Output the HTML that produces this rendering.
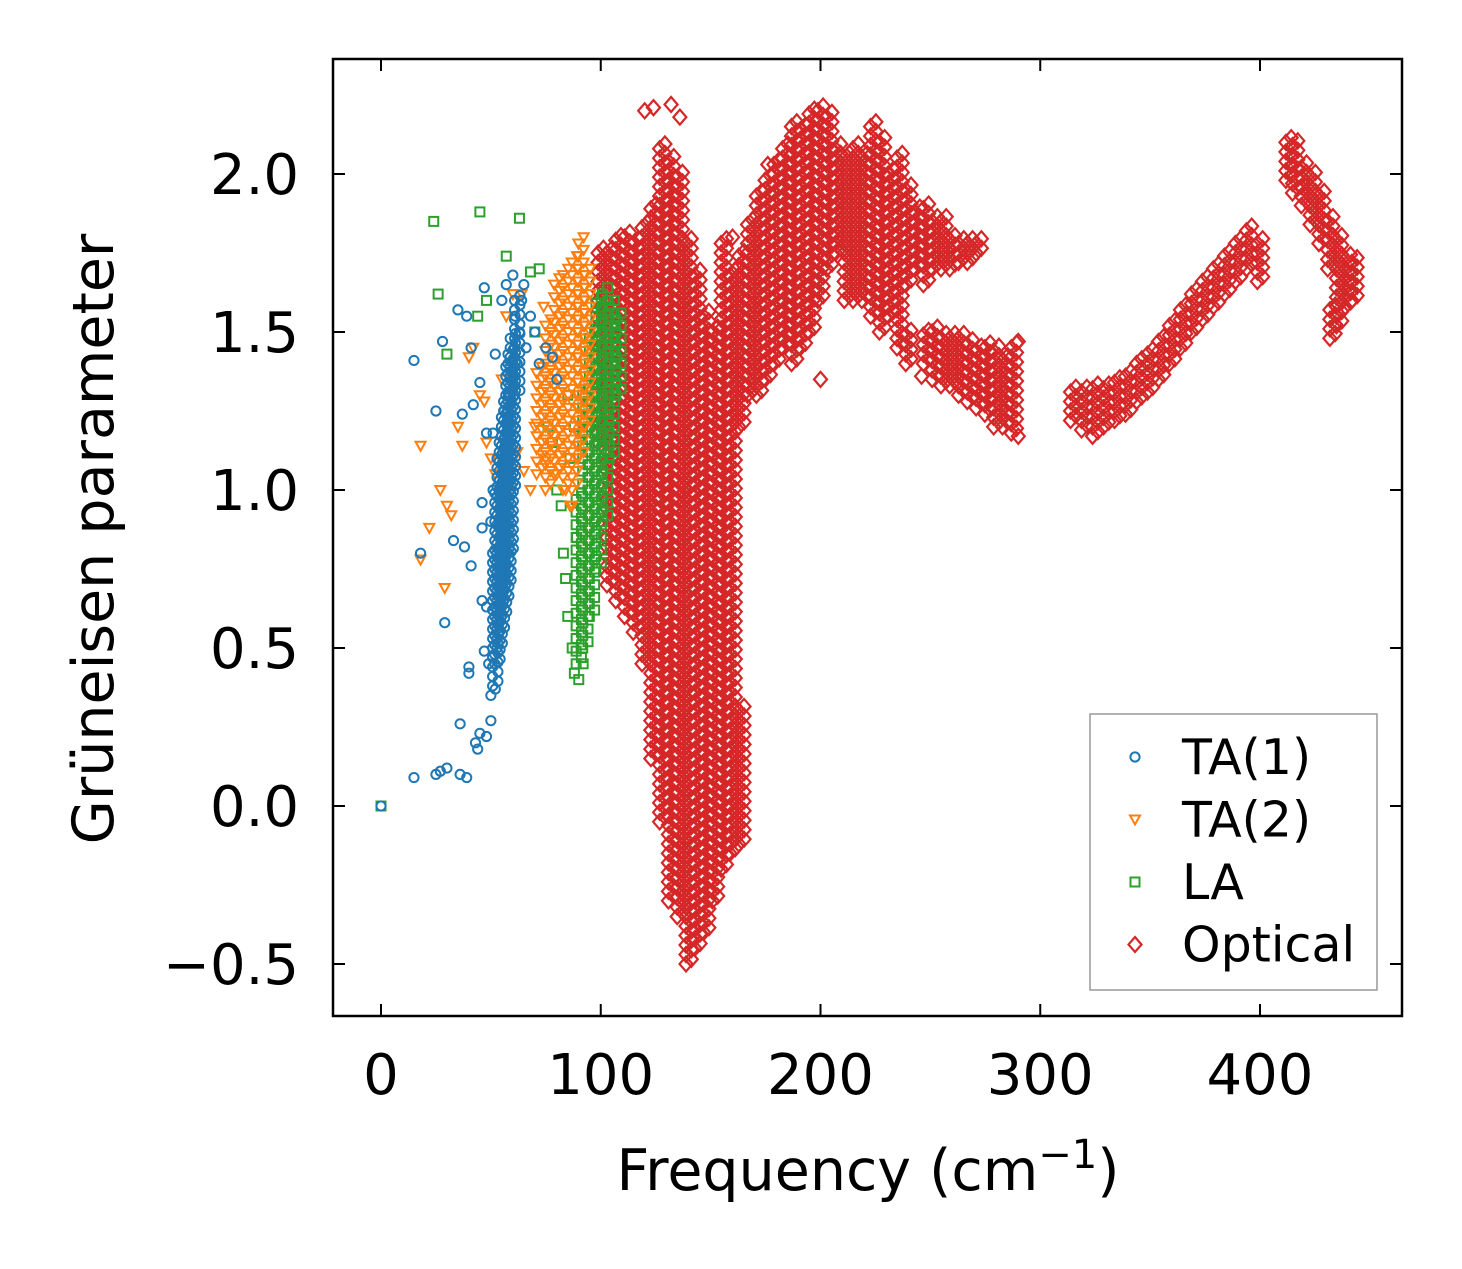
<!DOCTYPE html>
<html><head><meta charset="utf-8"><style>
body{margin:0;background:#fff}
svg text{font-family:"DejaVu Sans","Liberation Sans",sans-serif;fill:#000}
</style></head><body>
<svg id="chart" width="1462" height="1264" xmlns="http://www.w3.org/2000/svg">
<rect width="1462" height="1264" fill="#fff"/>
<g id="marks"></g>
<g id="axes"></g>
</svg>
<script>
// ---- data ----
const xTicks=[0,100,200,300,400];
const yTicks=[-0.5,0.0,0.5,1.0,1.5,2.0];
const yTickLabels=["\u22120.5","0.0","0.5","1.0","1.5","2.0"];
const ta1Points=[[0,0],[15,0.09],[15,1.41],[18,0.8],[25,0.1],[25,1.25],[27,0.11],[28,1.47],[29,0.58],[30,0.12],[33,0.84],[35,1.57],[36,0.26],[36,0.1],[37,1.24],[38,0.82],[39,0.09],[39,1.55],[40,0.44],[40,0.42],[41,0.76],[41,1.45],[42,1.27],[43,0.2],[44,0.18],[45,0.23],[45,1.34],[46,0.96],[46,0.88],[46,0.65],[47,1.64],[47,0.49],[48,0.22],[48,1.18],[48,0.63],[49,0.45],[50,0.27],[50,0.35],[50,0.9],[51,1.18],[51,1.0],[52,0.37],[52,1.43],[55,1.6],[57,1.65],[60,1.68],[61,1.55],[62,1.4],[63,1.5],[64,1.6],[65,1.65],[66,1.45],[68,1.55],[70,1.5],[72,1.4],[75,1.45],[78,1.42],[80,1.35],[58,1.3],[56,1.25]];
const ta1Bands=[[52,0.38,0.8],[53,0.45,1.0],[54,0.5,1.1],[55,0.55,1.15],[56,0.6,1.25],[57,0.65,1.3],[58,0.7,1.4],[59,0.8,1.45],[60,1.0,1.5],[62,1.3,1.6]];
const ta2Points=[[18,1.14],[18,0.78],[22,0.88],[27,1.0],[29,0.69],[30,0.95],[32,0.92],[35,1.2],[37,1.14],[40,1.42],[42,1.45],[45,1.3],[47,1.28],[48,1.15],[50,1.1],[52,1.05],[54,1.0],[55,1.35],[57,1.55],[60,1.62],[62,1.12],[64,1.62],[65,1.06],[68,1.0],[70,1.2],[74,1.58],[75,1.1],[80,1.05],[84,1.0],[87,0.95],[86,0.95]];
const ta2Bands=[[72,1.05,1.4],[76,1.0,1.55],[80,1.05,1.65],[84,1.0,1.7],[88,1.0,1.75],[91,1.1,1.78],[94,1.2,1.7]];
const laPoints=[[0,0],[24,1.85],[26,1.62],[30,1.43],[45,1.88],[44,1.55],[48,1.6],[63,1.86],[57,1.74],[68,1.69],[72,1.7],[70,1.5],[76,1.2],[78,1.15],[80,1.0],[82,0.95],[83,0.8],[84,0.72],[85,0.6],[87,0.5],[88,0.42],[90,0.4],[92,0.45],[86,1.1],[89,0.85],[85,1.3],[88,1.2]];
const laBands=[[90,0.45,1.0],[93,0.5,1.3],[96,0.6,1.5],[99,0.75,1.6],[102,0.9,1.65],[105,1.1,1.6],[108,1.3,1.55]];
const opPoints=[[120,2.2],[124,2.21],[132,2.22],[136,2.18],[246,1.36],[176,2.03],[200,1.35],[290,1.47],[290,1.17],[160,1.8]];
const opBands=[[100,1.15,1.75],[104,0.7,1.75],[108,0.65,1.8],[112,0.6,1.8],[116,0.55,1.8],[120,0.45,1.85],[124,0.15,1.9],[128,-0.05,2.1],[132,-0.3,2.05],[136,-0.35,2.0],[140,-0.5,1.8],[144,-0.45,1.7],[148,-0.4,1.55],[152,-0.3,1.5],[156,-0.2,1.8],[160,-0.15,1.7],[164,-0.12,0.3],[164,1.2,1.75],[168,1.3,1.85],[172,1.3,1.95],[176,1.35,2.0],[180,1.4,2.05],[184,1.45,2.1],[188,1.4,2.15],[192,1.45,2.15],[196,1.5,2.2],[200,1.6,2.2],[204,1.7,2.2],[208,1.75,2.1],[212,1.6,2.05],[216,1.6,2.1],[220,1.6,2.05],[224,1.55,2.15],[228,1.5,2.1],[232,1.55,2.0],[236,1.45,2.05],[240,1.65,1.95],[240,1.4,1.5],[244,1.7,1.9],[248,1.65,1.9],[248,1.4,1.5],[252,1.7,1.85],[252,1.35,1.52],[256,1.7,1.85],[256,1.33,1.5],[260,1.7,1.8],[260,1.33,1.5],[264,1.72,1.8],[264,1.3,1.48],[268,1.72,1.8],[268,1.28,1.48],[272,1.75,1.78],[272,1.26,1.46],[276,1.24,1.46],[280,1.2,1.45],[284,1.2,1.42],[288,1.18,1.45],[315,1.22,1.33],[320,1.19,1.33],[325,1.17,1.33],[330,1.2,1.33],[335,1.22,1.34],[340,1.24,1.37],[345,1.28,1.4],[350,1.31,1.44],[355,1.35,1.49],[360,1.4,1.54],[365,1.45,1.58],[370,1.5,1.62],[375,1.54,1.66],[380,1.58,1.7],[385,1.62,1.74],[390,1.66,1.79],[395,1.7,1.82],[400,1.66,1.78],[413,1.98,2.12],[416,1.94,2.09],[420,1.9,2.04],[424,1.84,1.99],[428,1.78,1.93],[432,1.7,1.87],[436,1.52,1.8],[440,1.58,1.75],[443,1.6,1.72],[433,1.48,1.58]];
// ---- scales ----
const X0=333,X1=1402,Y0=59,Y1=1016;
const sx=f=>381+f*2.1975;
const sy=g=>806-g*316;
const NS="http://www.w3.org/2000/svg";
const marks=document.getElementById('marks');
const axes=document.getElementById('axes');
function mk(tag,attrs,parent){const e=document.createElementNS(NS,tag);for(const k in attrs)e.setAttribute(k,attrs[k]);parent.appendChild(e);return e;}
function marker(kind,cx,cy,color,parent){
  let e;
  if(kind==='o') e=mk('circle',{cx:cx,cy:cy,r:4.6,fill:'none',stroke:color,'stroke-width':2},parent);
  else if(kind==='v') e=mk('path',{d:`M${cx-5},${cy-4}L${cx+5},${cy-4}L${cx},${cy+5}Z`,fill:'none',stroke:color,'stroke-width':2},parent);
  else if(kind==='s') e=mk('rect',{x:cx-4.5,y:cy-4.5,width:9,height:9,fill:'none',stroke:color,'stroke-width':2},parent);
  else e=mk('path',{d:`M${cx},${cy-7.5}L${cx+6.5},${cy}L${cx},${cy+7.5}L${cx-6.5},${cy}Z`,fill:'none',stroke:color,'stroke-width':2.2},parent);
  return e;
}
function series(name,kind,color,pts,bands,step){
  const g=mk('g',{},marks);
  
  
  pts.forEach(p=>{const e=marker(kind,sx(p[0]),sy(p[1]),color,g);
    
    });
  bands.forEach(b=>{for(let v=b[1];v<=b[2]+1e-9;v+=step){
    for(const dx of [-1.2,1.2]){
      const e=marker(kind,sx(b[0]+dx),sy(v+(dx>0?step/2:0)),color,g);
      
      }}});
}
series('optical','d','#d62728',opPoints,opBands,0.03);
series('la','s','#2ca02c',laPoints,laBands,0.04);
series('ta2','v','#ff7f0e',ta2Points,ta2Bands,0.04);
series('ta1','o','#1f77b4',ta1Points,ta1Bands,0.03);
// ---- axes ----
const frame=mk('rect',{x:X0,y:Y0,width:X1-X0,height:Y1-Y0,fill:'none',stroke:'#000','stroke-width':2.5},axes);


xTicks.forEach(t=>{const x=sx(t);
  mk('line',{x1:x,y1:Y1,x2:x,y2:Y1-12,stroke:'#000','stroke-width':2},axes);
  mk('line',{x1:x,y1:Y0,x2:x,y2:Y0+12,stroke:'#000','stroke-width':2},axes);
  const l=mk('text',{x:x,y:1094,'font-size':56,'text-anchor':'middle'},axes);l.textContent=t;
  
  });
yTicks.forEach((t,i)=>{const y=sy(t);
  mk('line',{x1:X0,y1:y,x2:X0+12,y2:y,stroke:'#000','stroke-width':2},axes);
  mk('line',{x1:X1,y1:y,x2:X1-12,y2:y,stroke:'#000','stroke-width':2},axes);
  const l=mk('text',{x:299,y:y+20,'font-size':56,'text-anchor':'end'},axes);l.textContent=yTickLabels[i];
  
  });
const xt=mk('text',{x:868,y:1190,'font-size':57,'text-anchor':'middle'},axes);
xt.innerHTML='Frequency (cm<tspan dy="-22" font-size="40">\u22121</tspan><tspan dy="22">)</tspan>';


const yt=mk('text',{x:0,y:0,'font-size':57,'text-anchor':'middle',transform:'translate(113,539) rotate(-90)'},axes);
yt.textContent='Grüneisen parameter';


// legend
const lg=mk('g',{},axes);


mk('rect',{x:1090,y:714,width:287,height:276,fill:'#fff',stroke:'#999','stroke-width':1.5},lg);
const legNames=['TA(1)','TA(2)','LA','Optical'];
const legKinds=['o','v','s','d'];
const legColors=['#1f77b4','#ff7f0e','#2ca02c','#d62728'];
legNames.forEach((n,i)=>{const y=757+i*62.5;
  const it=mk('g',{},lg);
  
  
  marker(legKinds[i],1135,y,legColors[i],it);
  const t=mk('text',{x:1182,y:y+17,'font-size':49},it);t.textContent=n;});
</script>
</body></html>
